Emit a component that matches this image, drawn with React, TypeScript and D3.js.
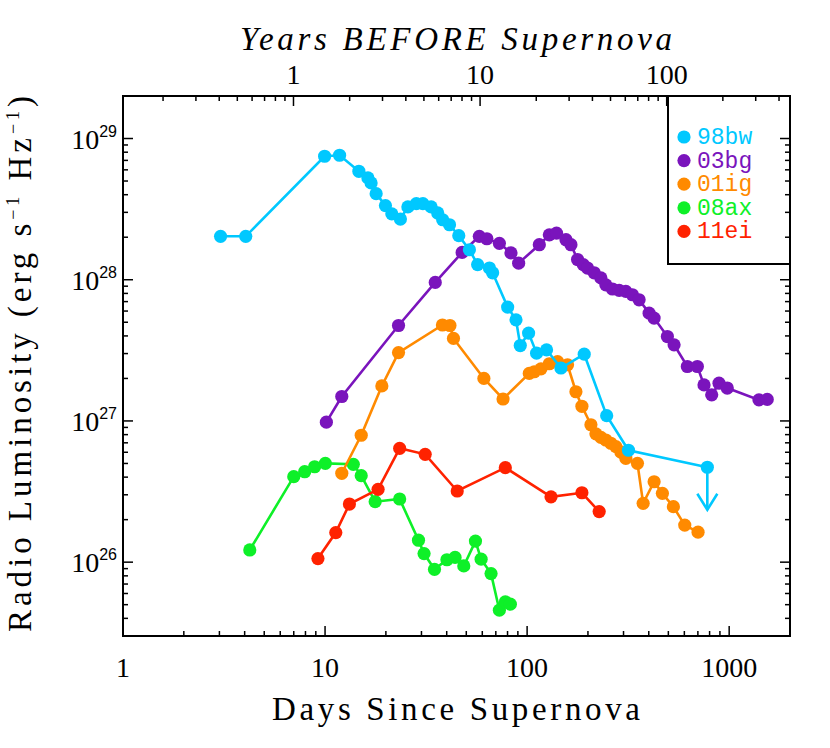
import * as d3 from "d3";

// days since supernova / radio luminosity (erg s^-1 Hz^-1)
const days98bw = [3.04, 4.05, 9.95, 11.8, 14.7, 16.3, 16.9, 17.9, 19.9, 21.4, 23.6, 25.7, 28.3, 30.5, 33.5, 36.1, 38.2, 41.3, 45.9, 51.8, 56.9, 65.1, 67.5, 80.1, 88.1, 92.5, 101.7, 111.4, 124.8, 147, 191.7, 247.6, 317.4, 779.6];
const lum98bw = [2.03e28, 2.03e28, 7.49e28, 7.61e28, 5.86e28, 5.26e28, 4.85e28, 4.07e28, 3.35e28, 2.93e28, 2.69e28, 3.28e28, 3.46e28, 3.46e28, 3.28e28, 2.97e28, 2.66e28, 2.45e28, 2.05e28, 1.63e28, 1.28e28, 1.21e28, 1.12e28, 6.4e27, 5.2e27, 3.42e27, 4.19e27, 3.02e27, 3.19e27, 2.37e27, 2.97e27, 1.09e27, 6.2e26, 4.7e26];

const days03bg = [10.15, 12.1, 23.1, 35.1, 47.7, 58.0, 63.2, 72.9, 83.2, 90.8, 114.9, 128.8, 139.8, 155.7, 164.8, 177.7, 189.6, 199.1, 214.8, 231.8, 245.3, 264.6, 285.5, 308, 332, 358.3, 401.6, 425.1, 494.6, 533.8, 620.9, 695.8, 750.7, 819.5, 890.6, 978.6, 1404, 1543];
const lum03bg = [9.8e26, 1.49e27, 4.74e27, 9.57e27, 1.56e28, 2.03e28, 1.95e28, 1.81e28, 1.55e28, 1.31e28, 1.77e28, 2.08e28, 2.14e28, 1.92e28, 1.77e28, 1.39e28, 1.28e28, 1.21e28, 1.12e28, 1.03e28, 9.2e27, 8.6e27, 8.4e27, 8.26e27, 7.83e27, 7.21e27, 5.8e27, 5.35e27, 3.96e27, 3.46e27, 2.43e27, 2.43e27, 1.8e27, 1.53e27, 1.85e27, 1.71e27, 1.41e27, 1.42e27];

const days01ig = [12.1, 15.1, 19.1, 23.1, 38.1, 41.5, 43.2, 61.1, 76.0, 102.5, 108.5, 117.1, 128.8, 141.5, 158.5, 174.4, 186.7, 206.9, 219, 231.8, 245.3, 259.7, 274.9, 291, 308, 351.6, 375.2, 425.1, 467.2, 529.5, 602.8, 701.4];
const lum01ig = [4.26e26, 7.92e26, 1.77e27, 3.05e27, 4.78e27, 4.74e27, 3.84e27, 2.0e27, 1.43e27, 2.17e27, 2.23e27, 2.34e27, 2.54e27, 2.63e27, 2.5e27, 1.61e27, 1.27e27, 9.4e26, 8.1e26, 7.64e26, 7.33e26, 6.95e26, 6.57e26, 6.03e26, 5.44e26, 5.01e26, 2.61e26, 3.71e26, 3.07e26, 2.47e26, 1.83e26, 1.63e26];

const days08ax = [4.24, 7.0, 7.93, 8.88, 10.03, 13.8, 15.1, 17.7, 23.4, 29.0, 30.9, 34.8, 40.1, 44.0, 48.6, 55.5, 59.2, 66.3, 72.9, 78.0, 82.6];
const lum08ax = [1.22e26, 4.03e26, 4.37e26, 4.74e26, 5.01e26, 4.93e26, 4.1e26, 2.68e26, 2.8e26, 1.43e26, 1.15e26, 8.9e25, 1.04e26, 1.08e26, 9.4e25, 1.41e26, 1.05e26, 8.3e25, 4.57e25, 5.23e25, 5.04e25];

const days11ei = [9.22, 11.3, 13.2, 18.3, 23.4, 31.3, 45.1, 78.0, 131.3, 186.7, 227.3];
const lum11ei = [1.06e26, 1.62e26, 2.58e26, 3.28e26, 6.4e26, 5.8e26, 3.19e26, 4.67e26, 2.9e26, 3.1e26, 2.28e26];

const names = ["98bw", "03bg", "01ig", "08ax", "11ei"];
const colors = ["#00c8ff", "#7a14bc", "#ff8a00", "#0ef028", "#ff2200"];
// last 98bw point is an upper limit
const upperLimit = ["98bw"];

const xTickLabels = [1, 10, 100, 1000];
const yearTickLabels = [1, 10, 100];
const yTickExp = [26, 27, 28, 29];

const series = [
  { name: "08ax", days: days08ax, lum: lum08ax },
  { name: "11ei", days: days11ei, lum: lum11ei },
  { name: "01ig", days: days01ig, lum: lum01ig },
  { name: "03bg", days: days03bg, lum: lum03bg },
  { name: "98bw", days: days98bw, lum: lum98bw },
];

const W = 830;
const H = 748;
const m = { left: 123, right: 790, top: 96, bottom: 636 };

const x = d3.scaleLog().domain([1, 2000]).range([m.left, m.right]);
const xTop = d3.scaleLog().domain([0.122, 458]).range([m.left, m.right]);
const y = d3.scaleLog().domain([3e25, 2e29]).range([m.bottom, m.top]);

const logTicks = (lo, hi) => {
  const t = [];
  for (let e = Math.floor(Math.log10(lo)); e <= Math.ceil(Math.log10(hi)); e++) {
    for (let k = 1; k < 10; k++) {
      const v = k * Math.pow(10, e);
      if (v >= lo * 0.999 && v <= hi * 1.001) t.push({ v, major: k === 1 });
    }
  }
  return t;
};

const serif = "'Liberation Serif', 'Times New Roman', serif";
const mono = "'Liberation Mono', monospace";

export default function App() {
  const line = d3
    .line()
    .x((d) => x(d[0]))
    .y((d) => y(d[1]));
  const colorOf = (n) => colors[names.indexOf(n)];

  return (
    <svg width={W} height={H} style={{ position: "absolute", left: 0, top: 0, background: "white" }}>
      {/* data */}
      {series.map((s) => {
        const pts = s.days.map((d, i) => [d, s.lum[i]]);
        const c = colorOf(s.name);
        const last = pts[pts.length - 1];
        return (
          <g key={s.name}>
            <path d={line(pts)} fill="none" stroke={c} strokeWidth={2.6} />
            {pts.map((p, i) => (
              <circle key={i} cx={x(p[0])} cy={y(p[1])} r={6.6} fill={c} />
            ))}
            {upperLimit.includes(s.name) && (
              <g stroke={c} strokeWidth={2.6} fill="none">
                <line x1={x(last[0])} x2={x(last[0])} y1={y(last[1])} y2={y(last[1] / 2)} />
                <path
                  d={`M${x(last[0]) - 10},${y(last[1] / 2) - 16} L${x(last[0])},${y(last[1] / 2)} L${x(last[0]) + 10},${y(last[1] / 2) - 16}`}
                />
              </g>
            )}
          </g>
        );
      })}

      {/* frame */}
      <rect x={m.left} y={m.top} width={m.right - m.left} height={m.bottom - m.top} fill="none" stroke="black" strokeWidth={2} />

      {/* bottom ticks */}
      {logTicks(1, 2000).map((t, i) => (
        <line key={"b" + i} x1={x(t.v)} x2={x(t.v)} y1={m.bottom} y2={m.bottom - (t.major ? 10 : 5)} stroke="black" strokeWidth={1.5} />
      ))}
      {/* top ticks (years) */}
      {logTicks(0.122, 458).map((t, i) => (
        <line key={"t" + i} x1={xTop(t.v)} x2={xTop(t.v)} y1={m.top} y2={m.top + (t.major ? 10 : 5)} stroke="black" strokeWidth={1.5} />
      ))}
      {/* left / right ticks */}
      {logTicks(3e25, 2e29).map((t, i) => (
        <g key={"y" + i} stroke="black" strokeWidth={1.5}>
          <line x1={m.left} x2={m.left + (t.major ? 10 : 5)} y1={y(t.v)} y2={y(t.v)} />
          <line x1={m.right} x2={m.right - (t.major ? 10 : 5)} y1={y(t.v)} y2={y(t.v)} />
        </g>
      ))}

      {/* tick labels */}
      {xTickLabels.map((v) => (
        <text key={"xl" + v} x={x(v)} y={677} textAnchor="middle" fontFamily={serif} fontSize={28}>
          {v}
        </text>
      ))}
      {yearTickLabels.map((v) => (
        <text key={"tl" + v} x={xTop(v)} y={84} textAnchor="middle" fontFamily={serif} fontSize={28}>
          {v}
        </text>
      ))}
      {yTickExp.map((e) => (
        <text key={"yl" + e} x={117} y={y(Math.pow(10, e)) + 10} textAnchor="end" fontFamily={serif} fontSize={28}>
          10
          <tspan dy={-12} fontSize={16} fontFamily="'Liberation Sans', Arial, sans-serif">
            {e}
          </tspan>
        </text>
      ))}

      {/* axis titles */}
      <text x={456} y={720} textAnchor="middle" fontFamily={serif} fontSize={33} textLength={368} lengthAdjust="spacing">
        Days Since Supernova
      </text>
      <text x={456} y={50} textAnchor="middle" fontFamily={serif} fontStyle="italic" fontSize={33} textLength={432} lengthAdjust="spacing">
        Years BEFORE Supernova
      </text>
      <text
        transform="translate(31,364) rotate(-90)"
        textAnchor="middle"
        fontFamily={serif}
        fontSize={33}
        textLength={536}
        lengthAdjust="spacing"
      >
        Radio Luminosity (erg s
        <tspan dy={-12} fontSize={18}>−1</tspan>
        <tspan dy={12}> Hz</tspan>
        <tspan dy={-12} fontSize={18}>−1</tspan>
        <tspan dy={12}>)</tspan>
      </text>

      {/* legend */}
      <rect x={668} y={m.top} width={m.right - 668} height={264 - m.top} fill="none" stroke="black" strokeWidth={2} />
      {names.map((n, i) => {
        const ly = 137 + i * 23.6;
        return (
          <g key={"lg" + n}>
            <circle cx={684} cy={ly} r={6.6} fill={colors[i]} />
            <text x={697} y={ly + 7} fill={colors[i]} fontFamily={mono} fontSize={23}>
              {n}
            </text>
          </g>
        );
      })}
    </svg>
  );
}
